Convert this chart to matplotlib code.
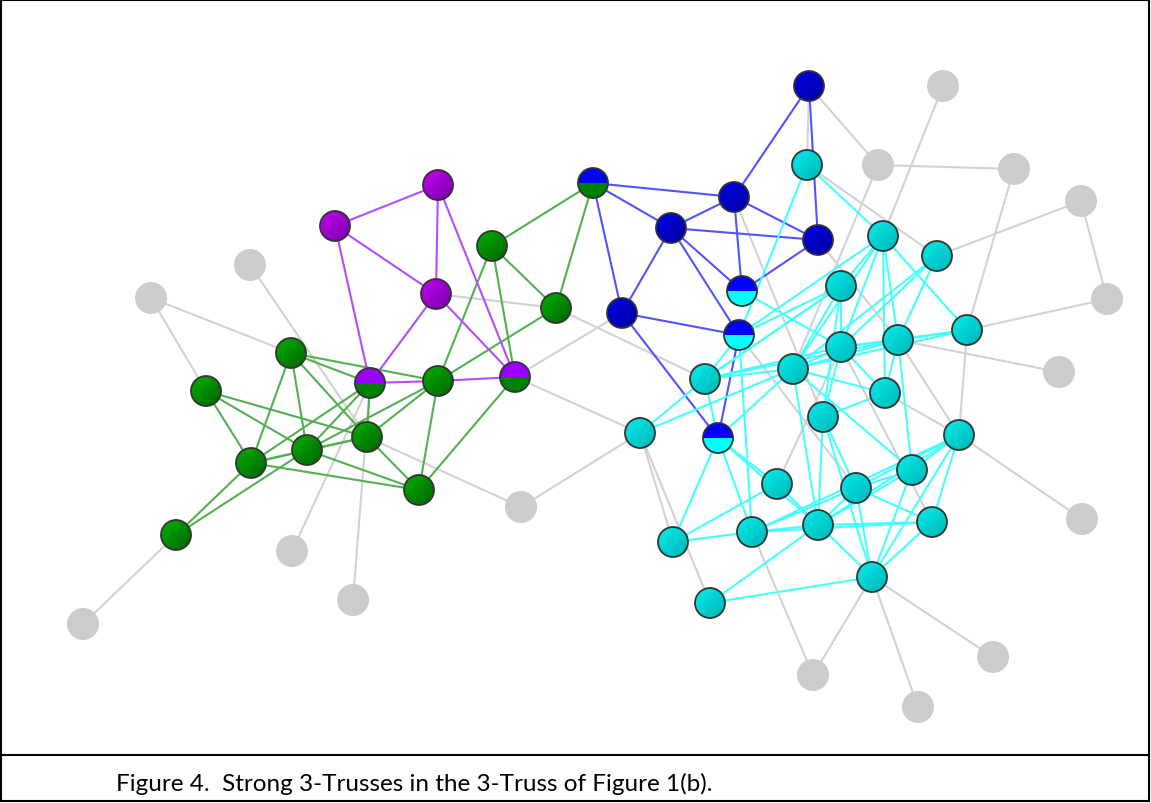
import numpy as np
import matplotlib
matplotlib.use("Agg")
import matplotlib.pyplot as plt
from matplotlib.patches import Circle, Wedge

# ---------------- data ----------------
node_names = ["g1","g2","g3","g4","g5","g6","g7","g8","g9","g10","g11","g12","g13","g14","g15","g16",
              "G1","G2","G3","G4","G5","G6","G7","G8","G9","G10","PG1","PG2","BG",
              "P1","P2","P3",
              "B1","B2","B3","B4","B5","BC1","BC2","BC3",
              "C1","C2","C3","C4","C5","C6","C7","C8","C9","C10","C11","C12","C13","C14","C15",
              "C16","C17","C18","C19","C20","C21","C22"]
node_x = [151,250,83,292,353,521,943,878,1014,1081,1107,1059,1082,993,918,813,
          291,206,251,307,367,419,176,438,492,556,370,515,593,
          335,438,436,
          809,734,671,818,622,742,739,718,
          807,883,937,841,898,967,841,793,705,885,823,640,959,912,777,
          856,673,752,818,932,872,710]
node_y = [299,266,625,552,601,508,87,166,170,202,300,373,520,658,708,676,
          354,392,464,451,438,491,536,382,247,309,384,378,184,
          227,186,295,
          87,198,229,241,314,292,336,439,
          166,237,257,287,341,331,348,370,380,394,418,434,436,471,485,
          489,543,533,526,523,578,604]
node_group = ["gray"]*16 + ["green"]*10 + ["purple/green","purple/green","blue/green"] + \
             ["purple"]*3 + ["blue"]*5 + ["blue/cyan"]*3 + ["cyan"]*22

gray_edges = ["g1-G1","g1-G2","g2-G5","g3-G7","g4-PG1","g5-PG1","G5-g6","g6-C12","P3-G10","G10-C9",
              "PG2-B5","PG2-C12","B1-C1","B1-g8","g8-g9","g8-C8","g7-C2","g9-C6","g10-g11","g10-C3",
              "g11-C6","C5-g12","C6-C13","C1-C3","B2-C11","C12-C17","C12-C22","C18-g16","C21-g16",
              "C21-g15","C21-g14","C13-g13","C5-C13","C10-C13","C7-C20","B4-C5","C15-C7","BC2-C16"]
green_edges = ["G1-PG1","G1-G8","G1-G5","G1-G4","G1-G3","G2-G3","G2-G4","G2-G5","G3-PG1","G3-G4",
               "G3-G5","G3-G6","G3-G7","G4-PG1","G4-G8","G4-G5","G4-G6","G4-G7","G5-PG1","G5-G8",
               "G5-G6","G8-G6","G6-PG2","G9-BG","G9-G10","G9-G8","G9-PG2","BG-G10","G10-G8"]
purple_edges = ["P1-P2","P1-P3","P1-PG1","P2-P3","P2-PG2","P3-PG1","P3-PG2","PG1-G8","G8-PG2"]
blue_edges = ["BG-B2","BG-B3","BG-B5","B1-B2","B1-B4","B3-B2","B3-B4","B3-B5","B3-BC1","B3-BC2",
              "B2-B4","B2-BC1","B4-BC1","B5-BC2","B5-BC3","BC2-BC3"]
cyan_edges = ["C1-C2","C1-BC2","BC1-C7","BC2-C2","BC2-C4","BC2-C9","BC2-C18",
              "C9-C8","C9-C7","C9-C5","C9-C12","C9-BC3","C9-C4","C12-C8",
              "BC3-C8","BC3-C17","BC3-C15","BC3-C19","BC3-C18",
              "C17-C15","C17-C18","C18-C19","C18-C16","C18-C20","C19-C20","C19-C22","C19-C16",
              "C19-C14","C19-C11","C19-C8","C16-C14","C16-C13","C16-C20","C16-C21","C16-C11",
              "C21-C22","C21-C14","C21-C13","C21-C20","C21-C11","C15-C21",
              "C13-C14","C13-C20","C13-C18","C13-C19","C14-C8","C14-C5",
              "C2-C4","C2-C8","C2-C7","C2-C5","C2-C10","C2-C6",
              "C3-C7","C3-C8","C3-C5","C4-C8","C4-C7","C4-C11","C4-C9",
              "C7-C5","C7-C8","C7-C10","C7-C11","C5-C6","C5-C8","C5-C10",
              "C10-C8","C10-C11","C6-C7","C6-C8"]

caption = "Figure 4.  Strong 3-Trusses in the 3-Truss of Figure 1(b)."

# ---------------- styles ----------------
W, H = 1151, 804
edge_style = {"gray": "#d2d2d2", "green": "#52b052", "purple": "#b44cff",
              "blue": "#5252ff", "cyan": "#45ffff"}
grad = {"green": ((0, 178, 0), (0, 98, 0)),
        "purple": ((196, 0, 245), (118, 0, 168)),
        "blue": ((0, 0, 232), (0, 0, 158)),
        "cyan": ((0, 238, 238), (0, 180, 180))}
flat = {"green": "#008000", "purple": "#9900ff", "blue": "#0000ff", "cyan": "#00ffff"}

pos = {n: (x, y) for n, x, y in zip(node_names, node_x, node_y)}

fig = plt.figure(figsize=(W / 100, H / 100), dpi=100)
ax = fig.add_axes([0, 0, 1, 1])
ax.set_xlim(0, W)
ax.set_ylim(H, 0)
ax.axis("off")

def draw_edges(lst, color, z):
    for e in lst:
        a, b = e.split("-")
        (x1, y1), (x2, y2) = pos[a], pos[b]
        ax.plot([x1, x2], [y1, y2], color=color, lw=1.5, zorder=z, solid_capstyle="round")

draw_edges(gray_edges, edge_style["gray"], 1)
draw_edges(green_edges, edge_style["green"], 2)
draw_edges(purple_edges, edge_style["purple"], 2)
draw_edges(blue_edges, edge_style["blue"], 2)
draw_edges(cyan_edges, edge_style["cyan"], 2)

R = 15.0
n = 64
u = np.linspace(0, 1, n)
UU, VV = np.meshgrid(u, u)
t = np.clip((UU + VV) / 2.0, 0, 1)[..., None]

for name, grp in zip(node_names, node_group):
    x, y = pos[name]
    if grp == "gray":
        ax.add_patch(Circle((x, y), R + 1.0, facecolor="#cccccc", edgecolor="none", zorder=5))
    elif "/" in grp:
        top, bot = grp.split("/")
        # inverted y axis: angles 180-360 are the visual top half
        ax.add_patch(Wedge((x, y), R, 180, 360, facecolor=flat[top], edgecolor="none", zorder=5))
        ax.add_patch(Wedge((x, y), R, 0, 180, facecolor=flat[bot], edgecolor="none", zorder=5))
        ax.add_patch(Circle((x, y), R, facecolor="none", edgecolor="#333333", lw=1.3, zorder=6))
    else:
        c1, c2 = grad[grp]
        c1 = np.array(c1) / 255.0
        c2 = np.array(c2) / 255.0
        img = c1 * (1 - t) + c2 * t
        circ = Circle((x, y), R, transform=ax.transData, facecolor="none", edgecolor="none")
        ax.add_patch(circ)
        im = ax.imshow(img, extent=(x - R, x + R, y + R, y - R), origin="upper",
                       zorder=5, interpolation="bilinear")
        im.set_clip_path(circ)
        ax.add_patch(Circle((x, y), R, facecolor="none", edgecolor="#333333", lw=1.3, zorder=6))

ax.set_xlim(0, W)
ax.set_ylim(H, 0)
ax.set_aspect("auto")

# frame and caption
lw = 1.5
ax.plot([1, W - 2, W - 2, 1, 1], [1, 1, H - 2, H - 2, 1], color="black", lw=lw, zorder=10,
        solid_joinstyle="miter")
ax.plot([1, W - 2], [756, 756], color="black", lw=lw, zorder=10)
ax.text(116, 784, caption, fontsize=17.5, family=["Lato", "DejaVu Sans"], color="black",
        ha="left", va="center", zorder=10)

fig.savefig("out.png", dpi=100)
